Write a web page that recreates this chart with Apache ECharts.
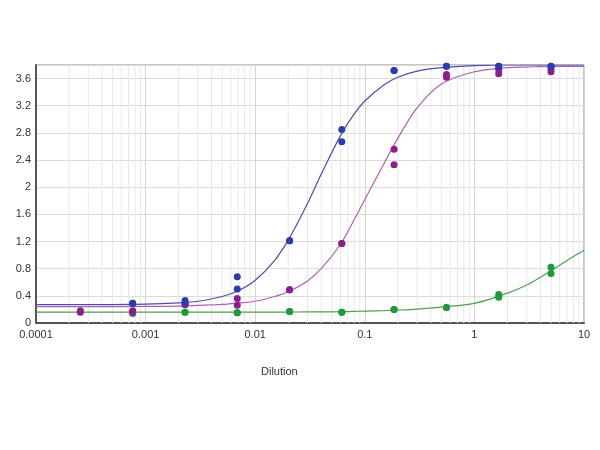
<!DOCTYPE html>
<html>
<head>
<meta charset="utf-8">
<script src="https://cdn.jsdelivr.net/npm/echarts@6/dist/echarts.min.js"></script>
<style>
html,body{margin:0;padding:0;background:#fff;}
#chart{width:600px;height:450px;}
</style>
</head>
<body>
<div id="chart"></div>
<script>
// ---- data ----
var dilutions = [0.000254, 0.000762, 0.00229, 0.00686, 0.0206, 0.0617, 0.185, 0.556, 1.667, 5];
var blueRep1   = [null, 0.29, 0.33, 0.68, 1.21, 2.85, 3.72, 3.78, 3.78, 3.78];
var blueRep2   = [null, 0.29, 0.30, 0.50, 1.21, 2.67, 3.72, 3.78, 3.78, 3.78];
var purpleRep1 = [0.18, 0.18, 0.28, 0.36, 0.49, 1.17, 2.56, 3.66, 3.73, 3.74];
var purpleRep2 = [0.16, 0.16, 0.27, 0.26, 0.49, 1.17, 2.33, 3.62, 3.67, 3.70];
var greenRep1  = [null, 0.15, 0.16, 0.15, 0.17, 0.16, 0.20, 0.23, 0.42, 0.82];
var greenRep2  = [null, 0.14, 0.16, 0.15, 0.17, 0.16, 0.20, 0.23, 0.38, 0.73];

// fitted curves
var curveX      = [0.0001,0.0003,0.001,0.002,0.003,0.005,0.007,0.01,0.015,0.02,0.03,0.04,0.06,0.08,0.1,0.15,0.2,0.3,0.5,1,2,3,5,7,10];
var blueCurve   = [0.27,0.271,0.278,0.296,0.32,0.39,0.475,0.63,0.92,1.22,1.76,2.19,2.76,3.08,3.27,3.51,3.62,3.71,3.76,3.79,3.80,3.80,3.80,3.80,3.80];
var purpleCurve = [0.24,0.24,0.245,0.25,0.26,0.275,0.295,0.32,0.39,0.46,0.62,0.80,1.16,1.52,1.82,2.35,2.72,3.17,3.52,3.70,3.76,3.77,3.78,3.78,3.78];
var greenCurve  = [0.16,0.16,0.16,0.16,0.16,0.16,0.16,0.16,0.16,0.161,0.163,0.164,0.167,0.171,0.175,0.183,0.19,0.205,0.235,0.29,0.44,0.56,0.77,0.92,1.07];

var xTickLabels = ['0.0001','0.001','0.01','0.1','1','10'];
var xAxisTitle = 'Dilution';

// ---- build ----
function pts(reps){
  var out = [];
  reps.forEach(function(r){
    r.forEach(function(v,i){ if(v!==null) out.push([dilutions[i], v]); });
  });
  return out;
}
function curve(ys){ return curveX.map(function(x,i){ return [x, ys[i]]; }); }

var Y_MIN = 0, Y_MAX = 3.8;
// minor log grid lines (2..9 within each decade), drawn as broken line segments
var minorGrid = [];
for (var k = -4; k <= 0; k++) {
  for (var d = 2; d <= 9; d++) {
    var gx = d * Math.pow(10, k);
    minorGrid.push([gx, Y_MIN], [gx, Y_MAX], [gx, '-']);
  }
}

var font = '"Liberation Sans", Arial, sans-serif';
var chart = echarts.init(document.getElementById('chart'), null, {renderer:'canvas'});
chart.setOption({
  animation: false,
  backgroundColor: '#ffffff',
  grid: {left: 36, right: 16, top: 65, bottom: 127, show: true, borderColor: '#8c8c8c', borderWidth: 1},
  xAxis: {
    type: 'log', logBase: 10, min: 0.0001, max: 10,
    axisLine: {show: true, lineStyle: {color: '#555', width: 2}},
    axisTick: {show: false},
    splitLine: {show: true, lineStyle: {color: '#d4d4d4', width: 1}},
    axisLabel: {
      color: '#333', fontSize: 11, fontFamily: font, margin: 6,
      formatter: function(v){ var e = Math.round(Math.log(v)/Math.LN10); return xTickLabels[e+4]; }
    }
  },
  yAxis: {
    type: 'value', min: Y_MIN, max: Y_MAX, interval: 0.4,
    axisLine: {show: true, lineStyle: {color: '#555', width: 2}},
    axisTick: {show: false},
    splitLine: {show: true, lineStyle: {color: '#dcdcdc', width: 1}},
    axisLabel: {color: '#333', fontSize: 11, fontFamily: font, margin: 5, showMaxLabel: false}
  },
  graphic: [{
    type: 'text', left: 261, top: 366,
    style: {text: xAxisTitle, fill: '#333', font: '11px ' + font}
  }],
  series: [
    {type: 'line', data: minorGrid, silent: true, z: 0, showSymbol: false, connectNulls: false,
     lineStyle: {color: '#e8e8e8', width: 1}},
    {type: 'line', data: curve(greenCurve), smooth: 0.35, showSymbol: false,
     lineStyle: {color: '#4ea04e', width: 1.2}, z: 3},
    {type: 'line', data: curve(purpleCurve), smooth: 0.35, showSymbol: false,
     lineStyle: {color: '#b060b0', width: 1.2}, z: 3},
    {type: 'line', data: curve(blueCurve), smooth: 0.35, showSymbol: false,
     lineStyle: {color: '#4c4cb0', width: 1.2}, z: 3},
    {type: 'scatter', data: pts([greenRep1, greenRep2]), symbolSize: 7,
     itemStyle: {color: '#1c9a3c', opacity: 1}, z: 4},
    {type: 'scatter', data: pts([purpleRep1, purpleRep2]), symbolSize: 7,
     itemStyle: {color: '#8c1e8c', opacity: 1}, z: 5},
    {type: 'scatter', data: pts([blueRep1, blueRep2]), symbolSize: 7,
     itemStyle: {color: '#2c3cac', opacity: 1}, z: 6}
  ]
});
</script>
</body>
</html>
